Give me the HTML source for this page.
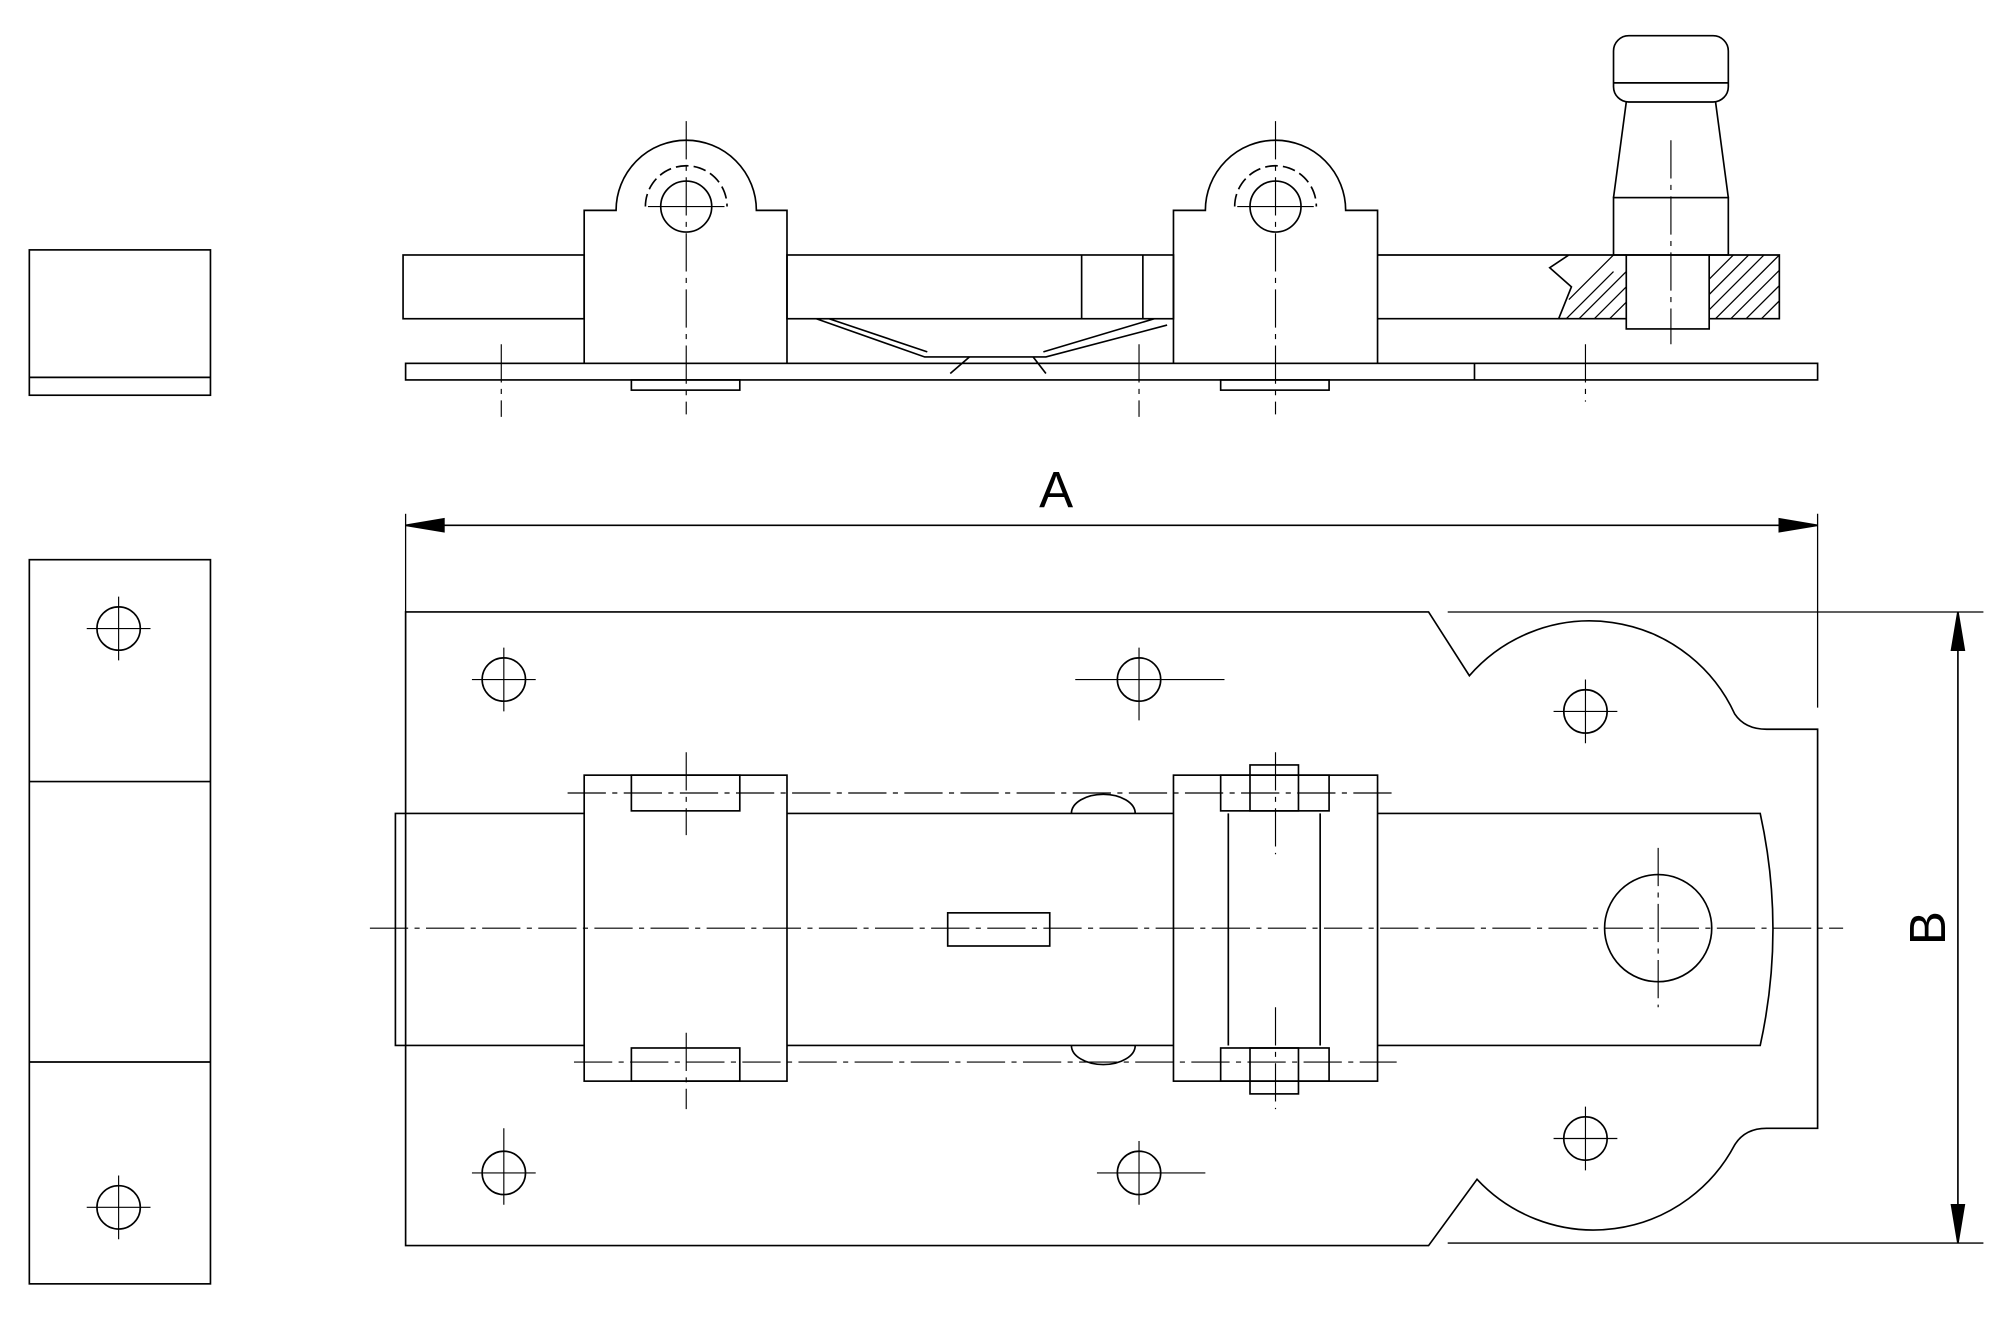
<!DOCTYPE html>
<html><head><meta charset="utf-8"><style>html,body{margin:0;padding:0;background:#fff}svg{display:block}</style></head>
<body>
<svg width="2000" height="1317" viewBox="0 0 1568 1033" preserveAspectRatio="none" xmlns="http://www.w3.org/2000/svg">
<g fill="none" stroke="#000" stroke-width="1.3">
<!-- left small views -->
<rect x="23" y="196" width="142" height="114"/>
<line x1="23" y1="296" x2="165" y2="296"/>
<rect x="23" y="439" width="142" height="568"/>
<line x1="23" y1="613" x2="165" y2="613"/>
<line x1="23" y1="833" x2="165" y2="833"/>
<circle cx="93" cy="493" r="17"/><circle cx="93" cy="947" r="17"/>
<!-- top view -->
<rect x="316" y="200" width="142" height="50"/>
<rect x="617" y="200" width="303" height="50"/>
<line x1="848" y1="200" x2="848" y2="250"/><line x1="896" y1="200" x2="896" y2="250"/>
<path d="M1080 200 H1230 M1080 250 H1230"/>
<rect x="318" y="285" width="1107" height="13"/>
<line x1="1156" y1="285" x2="1156" y2="298"/>
<path d="M458 285 V165 H483 A55 55 0 0 1 593 165 H617 V285"/>
<path d="M920 285 V165 H945 A55 55 0 0 1 1055 165 H1080 V285"/>
<circle cx="538" cy="162" r="20"/><circle cx="1000" cy="162" r="20"/>
<path d="M506 162 A32 32 0 0 1 570 162" stroke-dasharray="10 4"/>
<path d="M968 162 A32 32 0 0 1 1032 162" stroke-dasharray="10 4"/>
<path d="M640 250 L725 280 H820 L915 255 M650 250 L727 276 M905 250 L818 276"/>
<path d="M745 293 L760 280 M820 293 L810 280"/>
<rect x="495" y="298" width="85" height="8"/><rect x="957" y="298" width="85" height="8"/>
<!-- knob -->
<rect x="1265" y="28" width="90" height="52" rx="12"/>
<line x1="1265" y1="65" x2="1355" y2="65"/>
<path d="M1275 80 L1265 155 M1345 80 L1355 155"/>
<rect x="1265" y="155" width="90" height="45"/>
<rect x="1275" y="200" width="65" height="58"/>
<path d="M1230 200 L1215 210 L1232 225 L1222 250 H1275 M1340 200 H1395 V250 H1340 M1230 200 H1275"/>
<g stroke-width="1">
<path d="M1228 250 L1265 213 M1238 250 L1275 213 M1250 250 L1275 225 M1262 250 L1275 237 M1230 235 L1265 200 M1345 250 L1395 200 M1357 250 L1395 212 M1369 250 L1395 224 M1381 250 L1395 236 M1340 243 L1383 200 M1340 231 L1371 200 M1340 219 L1359 200"/>
</g>
<!-- dimension A -->
<line x1="318" y1="412" x2="1425" y2="412"/>
<path d="M318 412 L348 407 L348 417 Z M1425 412 L1395 407 L1395 417 Z" fill="#000"/>
<line x1="318" y1="403" x2="318" y2="480" stroke-width="1"/>
<line x1="1425" y1="403" x2="1425" y2="555" stroke-width="1"/>
<!-- dimension B -->
<line x1="1535" y1="480" x2="1535" y2="975"/>
<path d="M1535 480 L1530 510 L1540 510 Z M1535 975 L1530 945 L1540 945 Z" fill="#000"/>
<line x1="1135" y1="480" x2="1555" y2="480" stroke-width="1"/>
<line x1="1135" y1="975" x2="1555" y2="975" stroke-width="1"/>
<!-- front plate -->
<path d="M318 480 H1120 L1152 530 A125 125 0 0 1 1360 560 Q1368 572 1385 572 H1425 V885 H1385 Q1368 885 1360 898 A125 125 0 0 1 1158 925 L1120 977 H318 Z"/>
<path d="M310 638 H1380 Q1400 729 1380 820 H310 Z"/>
<rect x="458" y="608" width="159" height="240" fill="#fff"/>
<rect x="920" y="608" width="160" height="240" fill="#fff"/>
<path d="M963 638 V820 M1035 638 V820"/>
<rect x="495" y="608" width="85" height="28"/><rect x="495" y="822" width="85" height="26"/>
<rect x="957" y="608" width="85" height="28"/><rect x="957" y="822" width="85" height="26"/>
<rect x="980" y="600" width="38" height="36"/><rect x="980" y="822" width="38" height="36"/>
<path d="M840 638 A25 15 0 0 1 890 638 M840 820 A25 15 0 0 0 890 820"/>
<rect x="743" y="716" width="80" height="26"/>
<circle cx="1300" cy="728" r="42"/>
<circle cx="395" cy="533" r="17"/><circle cx="893" cy="533" r="17"/><circle cx="1243" cy="558" r="17"/>
<circle cx="395" cy="920" r="17"/><circle cx="893" cy="920" r="17"/><circle cx="1243" cy="893" r="17"/>
</g>
<!-- center lines -->
<g fill="none" stroke="#000" stroke-width="0.9" stroke-dasharray="30 5 4 5">
<path d="M290 728 H1445 M445 622 H1095 M450 833 H1095"/>
<path d="M538 95 V325 M1000 95 V325 M393 270 V327 M893 270 V327 M1243 270 V315 M1310 110 V270"/>
<path d="M538 590 V655 M538 810 V870 M1000 590 V670 M1000 790 V870 M1300 665 V790"/>
</g>
<g fill="none" stroke="#000" stroke-width="0.9">
<path d="M68 493 H118 M93 468 V518 M68 947 H118 M93 922 V972"/>
<path d="M370 533 H420 M395 508 V558 M843 533 H960 M893 508 V565 M1218 558 H1268 M1243 533 V583"/>
<path d="M370 920 H420 M395 885 V945 M860 920 H945 M893 895 V945 M1218 893 H1268 M1243 868 V918"/>
<path d="M508 162 H568 M970 162 H1030"/>
</g>
<text x="828" y="398" font-family="Liberation Sans, sans-serif" font-size="40" text-anchor="middle" fill="#000" font-weight="300">A</text>
<text x="0" y="0" transform="translate(1525 728) rotate(-90)" font-family="Liberation Sans, sans-serif" font-size="40" text-anchor="middle" fill="#000">B</text>
</svg>
</body></html>
